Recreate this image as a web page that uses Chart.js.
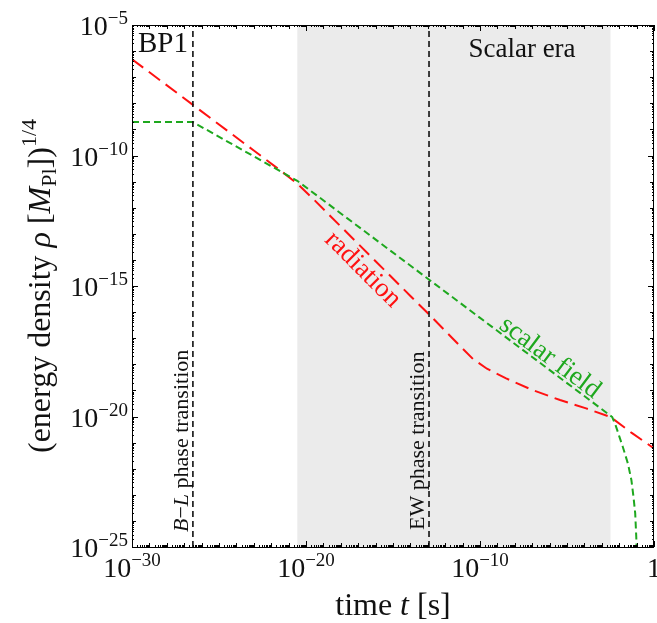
<!DOCTYPE html>
<html>
<head>
<meta charset="utf-8">
<script src="https://cdn.jsdelivr.net/npm/chart.js@4.4.0/dist/chart.umd.min.js"></script>
<style>
  body { margin: 0; background: #fff; }
  #marco { width: 657px; height: 623px; }
</style>
</head>
<body>
<div id="marco"><canvas id="myChart"></canvas></div>
<script>
// Exponentes: log10 de t [s] y log10 de rho^(1/4) [M_Pl]
const tRadiacion = [-30, -26.5, -23, -21.5, -20.5, -19.5, -18, -16, -14, -12.7, -11.5, -10.4, -9.6, -8.5, -7, -5.4, -3.9, -2.5, -1.3, 0];
const rhoRadiacion = [-6.31, -8.06, -9.81, -10.56, -11.08, -11.72, -12.72, -14.05, -15.38, -16.24, -17.06, -17.8, -18.17, -18.54, -18.98, -19.37, -19.69, -20.02, -20.62, -21.22];

const tEscalar = [-30, -26.5, -20.5, -2.4, -2.2, -2.0, -1.8, -1.5, -1.3, -1.18, -1.08, -1.02, -0.96];
const rhoEscalar = [-8.72, -8.72, -10.97, -20.02, -20.35, -20.75, -21.15, -21.8, -22.43, -23.07, -23.71, -24.6, -25.8];

// Transiciones de fase (B-L y EW) y era dominada por el escalar
const tTransiciones = [-26.5, -12.93];
const eraEscalar = [-20.5, -2.5];

// Ejes
const limitesX = [-30, 0];
const limitesY = [-25, -5];
const ticksX = [-30, -20, -10, 0];
const ticksY = [-25, -20, -15, -10, -5];

const SERIF = '"Liberation Serif", "Times New Roman", serif';
const ROJO = '#ff1111';
const VERDE = '#1ea81e';

const puntos = (ts, rs) => ts.map((t, i) => ({ x: Math.pow(10, t), y: Math.pow(10, rs[i]) }));
const vertical = t => [{ x: Math.pow(10, t), y: Math.pow(10, limitesY[0]) }, { x: Math.pow(10, t), y: Math.pow(10, limitesY[1]) }];

// Dibuja una secuencia de trozos de texto (fuente y desplazamiento vertical propios)
function trozos(ctx, lista, x, y, align) {
  let total = 0;
  lista.forEach(r => { ctx.font = r.f; r.w = ctx.measureText(r.t).width; total += r.w; });
  let cx = align === 'center' ? x - total / 2 : align === 'right' ? x - total : x;
  ctx.textAlign = 'left';
  ctx.textBaseline = 'alphabetic';
  lista.forEach(r => { ctx.font = r.f; ctx.fillText(r.t, cx, y + (r.dy || 0)); cx += r.w; });
}

const potencia = n => n === 0
  ? [{ t: '1', f: '28px ' + SERIF }]
  : [{ t: '10', f: '28px ' + SERIF }, { t: '\u2212' + Math.abs(n), f: '19px ' + SERIF, dy: -11 }];

const fondo = {
  id: 'fondo',
  beforeDatasetsDraw(chart) {
    const { ctx, chartArea: a, scales: { x } } = chart;
    const x0 = x.getPixelForValue(Math.pow(10, eraEscalar[0]));
    const x1 = x.getPixelForValue(Math.pow(10, eraEscalar[1]));
    ctx.save();
    ctx.fillStyle = '#ebebeb';
    ctx.fillRect(x0, a.top, x1 - x0, a.bottom - a.top);
    ctx.restore();
  }
};

const ejes = {
  id: 'ejes',
  afterDatasetsDraw(chart) {
    const { ctx, chartArea: a, scales: { x, y } } = chart;
    ctx.save();
    ctx.strokeStyle = '#000';
    ctx.lineWidth = 1;
    ctx.beginPath();
    // marcas hacia dentro en los cuatro lados
    for (let d = limitesX[0]; d <= limitesX[1]; d++) {
      for (let s = 1; s <= 9; s++) {
        const v = Math.log10(s) + d;
        if (v > limitesX[1]) break;
        const px = Math.round(x.getPixelForValue(Math.pow(10, v))) + 0.5;
        const L = s === 1 ? (ticksX.includes(d) ? 6 : 4) : 2;
        ctx.moveTo(px, a.bottom); ctx.lineTo(px, a.bottom - L);
        ctx.moveTo(px, a.top); ctx.lineTo(px, a.top + L);
      }
    }
    for (let d = limitesY[0]; d <= limitesY[1]; d++) {
      for (let s = 1; s <= 9; s++) {
        const v = Math.log10(s) + d;
        if (v > limitesY[1]) break;
        const py = Math.round(y.getPixelForValue(Math.pow(10, v))) + 0.5;
        const L = s === 1 ? (ticksY.includes(d) ? 6 : 4) : 2;
        ctx.moveTo(a.left, py); ctx.lineTo(a.left + L, py);
        ctx.moveTo(a.right, py); ctx.lineTo(a.right - L, py);
      }
    }
    ctx.stroke();
    ctx.strokeRect(Math.round(a.left) + 0.5, Math.round(a.top) + 0.5, Math.round(a.right - a.left) - 1, Math.round(a.bottom - a.top));
    ctx.restore();
  },
  afterDraw(chart) {
    const { ctx, chartArea: a, scales: { x, y } } = chart;
    ctx.save();
    ctx.fillStyle = '#111';

    // etiquetas de los ejes
    ticksX.forEach(n => trozos(ctx, potencia(n), x.getPixelForValue(Math.pow(10, n)), a.bottom + 30, 'center'));
    ticksY.forEach(n => trozos(ctx, potencia(n), a.left - 4, y.getPixelForValue(Math.pow(10, n)) + 10, 'right'));

    // titulo eje x
    trozos(ctx, [
      { t: 'time ', f: '32px ' + SERIF },
      { t: 't', f: 'italic 32px ' + SERIF },
      { t: ' [s]', f: '32px ' + SERIF }
    ], (a.left + a.right) / 2, 615, 'center');

    // titulo eje y
    ctx.save();
    ctx.translate(50, (a.top + a.bottom) / 2);
    ctx.rotate(-Math.PI / 2);
    trozos(ctx, [
      { t: '(energy density ', f: '32px ' + SERIF },
      { t: '\u03c1', f: 'italic 32px ' + SERIF },
      { t: ' [', f: '32px ' + SERIF },
      { t: 'M', f: 'italic 32px ' + SERIF },
      { t: 'Pl', f: '22px ' + SERIF, dy: 6 },
      { t: '])', f: '32px ' + SERIF },
      { t: '1/4', f: '22px ' + SERIF, dy: -14 }
    ], 0, 0, 'center');
    ctx.restore();

    // textos dentro del grafico
    trozos(ctx, [{ t: 'BP1', f: '29px ' + SERIF }], a.left + 6, a.top + 27, 'left');
    trozos(ctx, [{ t: 'Scalar era', f: '27px ' + SERIF }], 522, a.top + 32, 'center');

    const bl = x.getPixelForValue(Math.pow(10, tTransiciones[0]));
    ctx.save();
    ctx.translate(bl - 5, a.bottom - 15);
    ctx.rotate(-Math.PI / 2);
    trozos(ctx, [
      { t: 'B', f: 'italic 22px ' + SERIF },
      { t: '\u2212', f: '22px ' + SERIF },
      { t: 'L', f: 'italic 22px ' + SERIF },
      { t: ' phase transition', f: '22px ' + SERIF }
    ], 0, 0, 'left');
    ctx.restore();

    const ew = x.getPixelForValue(Math.pow(10, tTransiciones[1]));
    ctx.save();
    ctx.translate(ew - 5, a.bottom - 17);
    ctx.rotate(-Math.PI / 2);
    trozos(ctx, [{ t: 'EW phase transition', f: '22px ' + SERIF }], 0, 0, 'left');
    ctx.restore();

    // nombres de las curvas, girados a lo largo de cada una
    ctx.save();
    ctx.fillStyle = ROJO;
    ctx.translate(x.getPixelForValue(Math.pow(10, -16.7)), y.getPixelForValue(Math.pow(10, -14.35)));
    ctx.rotate(Math.PI / 4);
    trozos(ctx, [{ t: 'radiation', f: '27px ' + SERIF }], 0, 8, 'center');
    ctx.restore();

    ctx.save();
    ctx.fillStyle = VERDE;
    ctx.translate(x.getPixelForValue(Math.pow(10, -5.95)), y.getPixelForValue(Math.pow(10, -17.72)));
    ctx.rotate(Math.atan(0.75));
    trozos(ctx, [{ t: 'scalar field', f: '27px ' + SERIF }], 0, 8, 'center');
    ctx.restore();

    ctx.restore();
  }
};

const ctx = document.getElementById('myChart');
new Chart(ctx, {
  type: 'line',
  data: {
    datasets: [
      { data: vertical(tTransiciones[0]), borderColor: '#111', borderWidth: 1.6, borderDash: [6, 4] },
      { data: vertical(tTransiciones[1]), borderColor: '#111', borderWidth: 1.6, borderDash: [6, 4] },
      { label: 'scalar field', data: puntos(tEscalar, rhoEscalar), borderColor: VERDE, borderWidth: 2, borderDash: [7, 4] },
      { label: 'radiation', data: puntos(tRadiacion, rhoRadiacion), borderColor: ROJO, borderWidth: 2, borderDash: [14, 7] }
    ]
  },
  options: {
    responsive: true,
    maintainAspectRatio: false,
    animation: false,
    layout: { padding: { left: 132, top: 25, right: 3, bottom: 76 } },
    elements: { point: { radius: 0 }, line: { tension: 0, fill: false } },
    plugins: { legend: { display: false }, tooltip: { enabled: false } },
    scales: {
      x: { type: 'logarithmic', min: Math.pow(10, limitesX[0]), max: Math.pow(10, limitesX[1]), display: false },
      y: { type: 'logarithmic', min: Math.pow(10, limitesY[0]), max: Math.pow(10, limitesY[1]), display: false }
    }
  },
  plugins: [fondo, ejes]
});
</script>
</body>
</html>
